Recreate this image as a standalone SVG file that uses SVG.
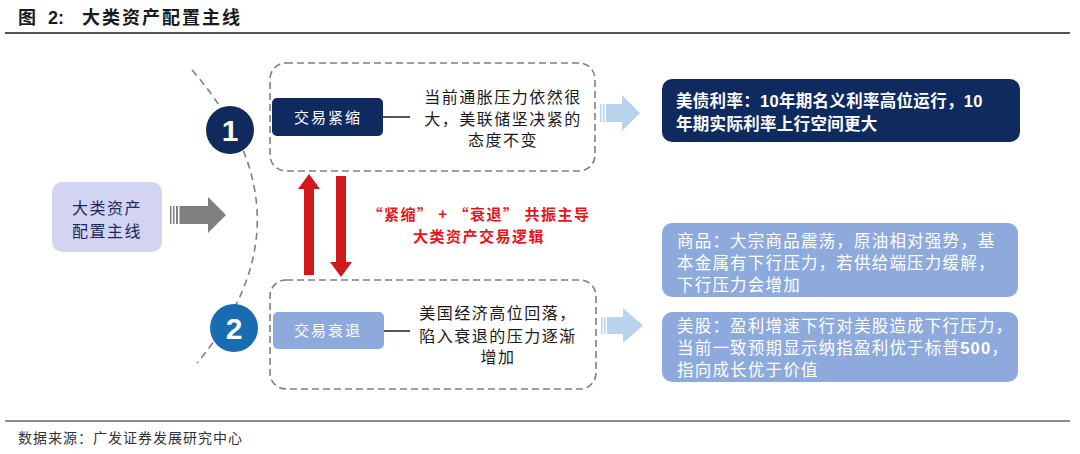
<svg xmlns="http://www.w3.org/2000/svg" width="1080" height="454" viewBox="0 0 1080 454">
<style>
text{font-family:"Liberation Sans","Noto Sans CJK SC",sans-serif}
.title{font-size:18px;font-weight:bold;fill:#1a1a1a}
.dash{fill:none;stroke:#7f7f7f;stroke-width:1.6;stroke-dasharray:7 4}
.mid{font-size:16px;fill:#1a1a1a;text-anchor:middle;letter-spacing:1.5px}
.lbl{font-size:15px;fill:#fff;text-anchor:middle;letter-spacing:2px}
.rt{font-size:16.5px;fill:#fff;letter-spacing:1.2px}
.red{font-family:"Noto Sans CJK SC",sans-serif;font-size:15px;fill:#e8141b;text-anchor:middle;font-weight:bold;letter-spacing:1.5px}
.num{font-size:30px;font-weight:bold;fill:#fff;text-anchor:middle}
.conn{stroke:#555;stroke-width:2}
.lb{fill:#b9d3ec}
</style>
<rect width="1080" height="454" fill="#fff"/>
<text class="title" x="18" y="24">图</text>
<text class="title" x="48" y="24">2:</text>
<text class="title" x="82" y="24" letter-spacing="2">大类资产配置主线</text>
<line x1="5" y1="33" x2="1070" y2="33" stroke="#1a1a1a" stroke-width="1.5"/>

<g id="arc">
<path d="M192,70 Q320,217 197,363" fill="none" stroke="#7f7f7f" stroke-width="1.6" stroke-dasharray="7 5"/>
</g>

<g id="node-main">
<rect x="52" y="182" width="110" height="70" rx="10" fill="#d3d4f2"/>
<text x="107" y="214" font-size="16" fill="#1b2a5c" text-anchor="middle" letter-spacing="1.5">大类资产</text>
<text x="107" y="237" font-size="16" fill="#1b2a5c" text-anchor="middle" letter-spacing="1.5">配置主线</text>
</g>

<g id="connectors">
<g fill="#7f7f7f">
<rect x="170" y="206" width="1.5" height="18"/>
<rect x="173" y="206" width="1.5" height="18"/>
<rect x="176" y="206" width="2" height="18"/>
<rect x="179.5" y="206" width="29" height="18"/>
<polygon points="208,197 226,215 208,233"/>
</g>
<g class="lb">
<rect x="600" y="104" width="1.5" height="18"/>
<rect x="603" y="104" width="1.5" height="18"/>
<rect x="606" y="104" width="17" height="18"/>
<polygon points="622,95 640,113 622,131"/>
<rect x="601" y="317" width="1.5" height="17"/>
<rect x="604" y="317" width="1.5" height="17"/>
<rect x="607" y="317" width="17" height="17"/>
<polygon points="623,308 643,325.5 623,343"/>
</g>
<line class="conn" x1="383" y1="117" x2="410" y2="117"/>
<line class="conn" x1="384" y1="331" x2="410" y2="331"/>
<polygon fill="#d0181f" points="309,174 320,189 314,189 314,275 304,275 304,189 298,189"/>
<polygon fill="#d0181f" points="336,176 346,176 346,262 352,262 341,277 330,262 336,262"/>
</g>

<g id="node-1">
<circle cx="230" cy="130" r="24" fill="#102a5e"/>
<text class="num" x="230" y="141">1</text>
</g>
<g id="node-2">
<circle cx="234" cy="328" r="24" fill="#1a6cb2"/>
<text class="num" x="234" y="339">2</text>
</g>

<g id="group-tight">
<rect class="dash" x="270" y="63" width="325" height="108" rx="16"/>
</g>
<g id="node-tight">
<rect x="272" y="98" width="111" height="38" rx="5" fill="#0e2a5f"/>
<text class="lbl" x="328" y="123">交易紧缩</text>
</g>
<g id="text-tight">
<text class="mid" x="503" y="103">当前通胀压力依然很</text>
<text class="mid" x="503" y="125">大，美联储坚决紧的</text>
<text class="mid" x="503" y="146">态度不变</text>
</g>

<g id="label-red">
<text class="red" x="479" y="220">“紧缩” + “衰退” 共振主导</text>
<text class="red" x="479" y="242">大类资产交易逻辑</text>
</g>

<g id="group-recession">
<rect class="dash" x="270" y="280" width="326" height="109" rx="16"/>
</g>
<g id="node-recession">
<rect x="273" y="312" width="111" height="37" rx="5" fill="#8eaadc"/>
<text class="lbl" x="328" y="336">交易衰退</text>
</g>
<g id="text-recession">
<text class="mid" x="498" y="319">美国经济高位回落，</text>
<text class="mid" x="498" y="342">陷入衰退的压力逐渐</text>
<text class="mid" x="498" y="363">增加</text>
</g>

<g id="node-bond">
<rect x="662" y="79" width="358" height="63" rx="10" fill="#0e2a5f"/>
<text x="676" y="107" font-size="16.5" font-weight="bold" fill="#fff" letter-spacing="0.3">美债利率：10年期名义利率高位运行，10</text>
<text x="676" y="130" font-size="16.5" font-weight="bold" fill="#fff" letter-spacing="0.3">年期实际利率上行空间更大</text>
</g>

<g id="node-commodity">
<rect x="662" y="223" width="356" height="74" rx="10" fill="#8eaadc"/>
<text class="rt" x="677" y="247">商品：大宗商品震荡，原油相对强势，基</text>
<text class="rt" x="677" y="269">本金属有下行压力，若供给端压力缓解，</text>
<text class="rt" x="677" y="291">下行压力会增加</text>
</g>

<g id="node-equity">
<rect x="662" y="312" width="356" height="70" rx="10" fill="#8eaadc"/>
<text class="rt" x="677" y="332">美股：盈利增速下行对美股造成下行压力，</text>
<text class="rt" x="677" y="354">当前一致预期显示纳指盈利优于标普<tspan font-weight="bold">500</tspan>，</text>
<text class="rt" x="677" y="376">指向成长优于价值</text>
</g>

<line x1="5" y1="421" x2="1070" y2="421" stroke="#1a1a1a" stroke-width="1.2"/>
<text x="18" y="443" font-size="14" fill="#333" letter-spacing="1">数据来源：广发证券发展研究中心</text>
</svg>
